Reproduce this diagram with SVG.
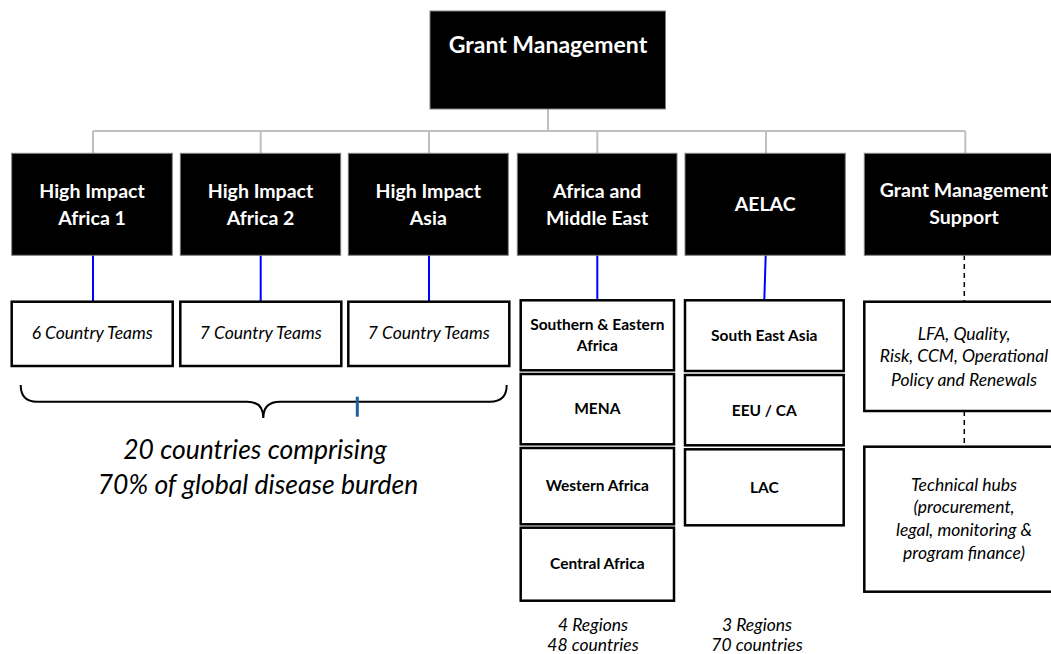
<svg xmlns="http://www.w3.org/2000/svg" width="1051" height="654" viewBox="0 0 1051 654">
<style>
.hd{fill:#000;stroke:#808080;stroke-width:1}
.sb{fill:#fff;stroke:#000;stroke-width:2.5}
.ht{font-family:Lato,"Liberation Sans",sans-serif;font-weight:bold;fill:#fff;text-anchor:middle;font-size:19.5px}
.tt{font-size:23px}
.bt{font-family:Lato,"Liberation Sans",sans-serif;font-weight:bold;fill:#000;text-anchor:middle;font-size:15.5px}
.it{font-family:Lato,"Liberation Sans",sans-serif;font-style:italic;fill:#000;text-anchor:middle;font-size:17.5px}
.big{font-size:26.5px}
.gl{stroke:#bfbfbf;stroke-width:2;fill:none}
.bl{stroke:#0000ff;stroke-width:2;fill:none}
.dl{stroke:#000;stroke-width:1.5;stroke-dasharray:5,4;fill:none}
</style>
<rect width="1051" height="654" fill="#fff"/>
<g id="connectors">
<path class="gl" d="M548,109 V131 M93,131 H965.3 M93,131 V153 M260.7,131 V153 M429,131 V153 M597.3,131 V153 M766,131 V153 M965.3,131 V153"/>
<path class="bl" d="M93,255 V301.7 M260.7,255 V301.7 M429,255 V301.7 M597.3,255 V300.3 M765.7,255 L764.3,300.3"/>
<path class="dl" d="M964.3,255 V301.7 M964.3,411 V446.7"/>
</g>
<g id="grant-management">
<rect class="hd" x="430" y="11" width="235.5" height="98"/>
<text class="ht tt" x="548" y="53">Grant Management</text>
</g>
<g id="hi-africa-1">
<rect class="hd" x="11.7" y="153.3" width="160.6" height="102"/>
<text class="ht" x="92" y="198.3">High Impact</text>
<text class="ht" x="92" y="225">Africa 1</text>
</g>
<g id="hi-africa-2">
<rect class="hd" x="180.3" y="153.3" width="160.4" height="102"/>
<text class="ht" x="260.5" y="198.3">High Impact</text>
<text class="ht" x="260.5" y="225">Africa 2</text>
</g>
<g id="hi-asia">
<rect class="hd" x="348.3" y="153.3" width="160" height="102"/>
<text class="ht" x="428.3" y="198.3">High Impact</text>
<text class="ht" x="428.3" y="225">Asia</text>
</g>
<g id="africa-me">
<rect class="hd" x="517.3" y="153.3" width="159.7" height="102"/>
<text class="ht" x="597.2" y="198">Africa and</text>
<text class="ht" x="597.2" y="224.5">Middle East</text>
</g>
<g id="aelac">
<rect class="hd" x="685" y="153.3" width="160.3" height="102"/>
<text class="ht" x="765.2" y="211">AELAC</text>
</g>
<g id="gms">
<rect class="hd" x="864.3" y="153.3" width="200" height="102"/>
<text class="ht" x="964" y="197.3">Grant Management</text>
<text class="ht" x="964" y="224">Support</text>
</g>
<g id="ct-6">
<rect class="sb" x="11.7" y="301.7" width="161" height="64.3"/>
<text class="it" x="92.2" y="339.3">6 Country Teams</text>
</g>
<g id="ct-7a">
<rect class="sb" x="180.3" y="301.7" width="161" height="64.3"/>
<text class="it" x="260.8" y="339.3">7 Country Teams</text>
</g>
<g id="ct-7b">
<rect class="sb" x="348.3" y="301.7" width="161" height="64.3"/>
<text class="it" x="428.8" y="339.3">7 Country Teams</text>
</g>
<g id="sea-africa">
<rect class="sb" x="520.7" y="300.3" width="153.3" height="70"/>
<text class="bt" x="597.3" y="330">Southern &amp; Eastern</text>
<text class="bt" x="597.3" y="351">Africa</text>
</g>
<g id="mena">
<rect class="sb" x="520.7" y="374" width="153.3" height="70.3"/>
<text class="bt" x="597.3" y="414">MENA</text>
</g>
<g id="western-africa">
<rect class="sb" x="520.7" y="448" width="153.3" height="76.3"/>
<text class="bt" x="597.3" y="491">Western Africa</text>
</g>
<g id="central-africa">
<rect class="sb" x="520.7" y="527.7" width="153.3" height="73"/>
<text class="bt" x="597.3" y="569">Central Africa</text>
</g>
<g id="south-east-asia">
<rect class="sb" x="685" y="300.3" width="158.7" height="70.7"/>
<text class="bt" x="764.3" y="341">South East Asia</text>
</g>
<g id="eeu-ca">
<rect class="sb" x="685" y="375" width="158.7" height="70.3"/>
<text class="bt" x="764.3" y="416">EEU / CA</text>
</g>
<g id="lac">
<rect class="sb" x="685" y="449.3" width="158.7" height="76"/>
<text class="bt" x="764.3" y="493">LAC</text>
</g>
<g id="lfa">
<rect class="sb" x="864.3" y="301.7" width="200" height="109.3"/>
<text class="it" x="964" y="340">LFA, Quality,</text>
<text class="it" x="964" y="362.3">Risk, CCM, Operational</text>
<text class="it" x="964" y="385.7">Policy and Renewals</text>
</g>
<g id="tech-hubs">
<rect class="sb" x="864.3" y="446.7" width="200" height="145"/>
<text class="it" x="964" y="491">Technical hubs</text>
<text class="it" x="964" y="513.3">(procurement,</text>
<text class="it" x="964" y="536">legal, monitoring &amp;</text>
<text class="it" x="964" y="558.7">program finance)</text>
</g>
<g id="brace">
<path d="M20.7,385 Q20.7,401.7 37,401.7 L247,401.7 Q263.3,401.7 263.3,418 Q263.3,401.7 280,401.7 L490,401.7 Q506.7,401.7 506.7,385" fill="none" stroke="#000" stroke-width="2"/>
<path d="M357.3,396.7 V416.7" stroke="#1f5f9a" stroke-width="3"/>
</g>
<g id="summary">
<text class="it big" x="255" y="459.3">20 countries comprising</text>
<text class="it big" x="258" y="494">70% of global disease burden</text>
</g>
<g id="region-counts">
<text class="it" x="593" y="630.7">4 Regions</text>
<text class="it" x="593" y="650.7">48 countries</text>
<text class="it" x="757" y="630.7">3 Regions</text>
<text class="it" x="757" y="650.7">70 countries</text>
</g>
</svg>
